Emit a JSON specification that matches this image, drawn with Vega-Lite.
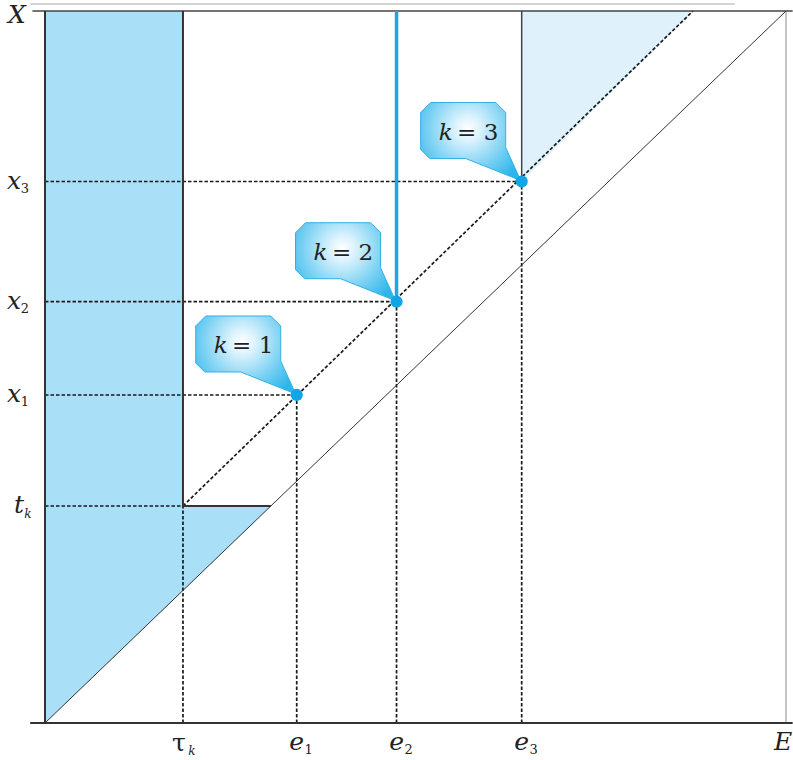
{
  "$schema": "https://vega.github.io/schema/vega-lite/v6.json",
  "width": 741,
  "height": 712,
  "autosize": {"type": "none"},
  "padding": {"left": 45, "top": 11, "right": 7, "bottom": 37},
  "background": "white",
  "config": {"view": {"stroke": null}, "text": {"font": "DejaVu Serif"}},
  "datasets": {
    "shade": [
      {"part": "a", "x": 0, "lo": 0, "hi": 100},
      {"part": "a", "x": 18.62, "lo": 18.62, "hi": 100},
      {"part": "b", "x": 18.62, "lo": 18.62, "hi": 30.48},
      {"part": "b", "x": 30.48, "lo": 30.48, "hi": 30.48}
    ],
    "shadeLight": [
      {"x": 64.33, "lo": 76.05, "hi": 100},
      {"x": 87.45, "lo": 100, "hi": 100}
    ],
    "dashed": [
      {"x": 0, "y": 76.05, "x2": 64.33, "y2": 76.05},
      {"x": 0, "y": 59.17, "x2": 47.44, "y2": 59.17},
      {"x": 0, "y": 46.07, "x2": 33.97, "y2": 46.07},
      {"x": 0, "y": 30.48, "x2": 18.62, "y2": 30.48},
      {"x": 18.62, "y": 0, "x2": 18.62, "y2": 30.48},
      {"x": 33.97, "y": 0, "x2": 33.97, "y2": 46.07},
      {"x": 47.44, "y": 0, "x2": 47.44, "y2": 59.17},
      {"x": 64.33, "y": 0, "x2": 64.33, "y2": 76.05},
      {"x": 18.62, "y": 30.48, "x2": 87.45, "y2": 100}
    ],
    "thick": [
      {"x": 0, "y": 0, "x2": 0, "y2": 100},
      {"x": -2, "y": 0, "x2": 100.9, "y2": 0},
      {"x": 18.62, "y": 30.48, "x2": 18.62, "y2": 100},
      {"x": 18.62, "y": 30.48, "x2": 30.48, "y2": 30.48}
    ],
    "medium": [
      {"x": 64.33, "y": 76.05, "x2": 64.33, "y2": 100},
      {"x": -1.7, "y": 100, "x2": 100.9, "y2": 100}
    ],
    "thin": [
      {"x": 0, "y": 0, "x2": 100, "y2": 100}
    ],
    "grayEdge": [
      {"x": 100, "y": 0, "x2": 100, "y2": 100}
    ],
    "topGray": [
      {"x": -2, "y": 101, "x2": 93.1, "y2": 101}
    ],
    "blue": [
      {"x": 47.44, "y": 59.17, "x2": 47.44, "y2": 100}
    ],
    "points": [
      {"k": "1", "x": 33.97, "y": 46.07, "label": "= 1"},
      {"k": "2", "x": 47.44, "y": 59.17, "label": "= 2"},
      {"k": "3", "x": 64.33, "y": 76.05, "label": "= 3"}
    ],
    "ylabX": [
      {"y": 76.05, "sub": "3"},
      {"y": 59.17, "sub": "2"},
      {"y": 46.07, "sub": "1"}
    ],
    "xlabE": [
      {"x": 33.97, "sub": "1"},
      {"x": 47.44, "sub": "2"},
      {"x": 64.33, "sub": "3"}
    ]
  },
  "layer": [
    {
      "data": {"name": "shade"},
      "mark": {"type": "area", "orient": "vertical", "color": "#aadff8", "opacity": 1},
      "encoding": {
        "x": {"field": "x", "type": "quantitative", "scale": {"domain": [0, 100], "nice": false, "zero": false}, "axis": null},
        "y": {"field": "hi", "type": "quantitative", "stack": null, "scale": {"domain": [0, 100], "nice": false, "zero": false}, "axis": null},
        "y2": {"field": "lo"},
        "detail": {"field": "part"}
      }
    },
    {
      "data": {"name": "shadeLight"},
      "mark": {"type": "area", "orient": "vertical", "color": "#dff2fc", "opacity": 1},
      "encoding": {
        "x": {"field": "x", "type": "quantitative"},
        "y": {"field": "hi", "type": "quantitative", "stack": null},
        "y2": {"field": "lo"}
      }
    },
    {
      "data": {"name": "dashed"},
      "mark": {"type": "rule", "color": "#1a1a1a", "strokeWidth": 1.7, "strokeDash": [3.5, 2]},
      "encoding": {
        "x": {"field": "x", "type": "quantitative"},
        "y": {"field": "y", "type": "quantitative"},
        "x2": {"field": "x2"},
        "y2": {"field": "y2"}
      }
    },
    {
      "data": {"name": "topGray"},
      "mark": {"type": "rule", "color": "#d4d4d4", "strokeWidth": 2},
      "encoding": {
        "x": {"field": "x", "type": "quantitative"},
        "y": {"field": "y", "type": "quantitative"},
        "x2": {"field": "x2"},
        "y2": {"field": "y2"}
      }
    },
    {
      "data": {"name": "grayEdge"},
      "mark": {"type": "rule", "color": "#888888", "strokeWidth": 1},
      "encoding": {
        "x": {"field": "x", "type": "quantitative"},
        "y": {"field": "y", "type": "quantitative"},
        "x2": {"field": "x2"},
        "y2": {"field": "y2"}
      }
    },
    {
      "data": {"name": "thin"},
      "mark": {"type": "rule", "color": "#333333", "strokeWidth": 1},
      "encoding": {
        "x": {"field": "x", "type": "quantitative"},
        "y": {"field": "y", "type": "quantitative"},
        "x2": {"field": "x2"},
        "y2": {"field": "y2"}
      }
    },
    {
      "data": {"name": "medium"},
      "mark": {"type": "rule", "color": "#444444", "strokeWidth": 1.5},
      "encoding": {
        "x": {"field": "x", "type": "quantitative"},
        "y": {"field": "y", "type": "quantitative"},
        "x2": {"field": "x2"},
        "y2": {"field": "y2"}
      }
    },
    {
      "data": {"name": "thick"},
      "mark": {"type": "rule", "color": "#333333", "strokeWidth": 2},
      "encoding": {
        "x": {"field": "x", "type": "quantitative"},
        "y": {"field": "y", "type": "quantitative"},
        "x2": {"field": "x2"},
        "y2": {"field": "y2"}
      }
    },
    {
      "data": {"name": "blue"},
      "mark": {"type": "rule", "color": "#1ba7e3", "strokeWidth": 3.5},
      "encoding": {
        "x": {"field": "x", "type": "quantitative"},
        "y": {"field": "y", "type": "quantitative"},
        "x2": {"field": "x2"},
        "y2": {"field": "y2"}
      }
    },
    {
      "data": {"name": "points"},
      "mark": {
        "type": "point",
        "shape": "M -1,-1 L -56,-23 L -92,-23 L -101,-32 L -101,-69 L -91,-79 L -26,-79 L -16,-69 L -16,-34 Z",
        "size": 4,
        "filled": true,
        "opacity": 1,
        "fill": {
          "gradient": "radial",
          "x1": 0.47, "y1": 0.37, "r1": 0,
          "x2": 0.47, "y2": 0.37, "r2": 0.62,
          "stops": [
            {"offset": 0, "color": "#ffffff"},
            {"offset": 0.2, "color": "#dcf3fd"},
            {"offset": 0.65, "color": "#78d0f3"},
            {"offset": 1, "color": "#2eb6ec"}
          ]
        },
        "stroke": "#34b0e4",
        "strokeWidth": 1
      },
      "encoding": {
        "x": {"field": "x", "type": "quantitative"},
        "y": {"field": "y", "type": "quantitative"}
      }
    },
    {
      "data": {"name": "points"},
      "mark": {"type": "point", "shape": "circle", "size": 150, "filled": true, "opacity": 1, "color": "#12a5e6"},
      "encoding": {
        "x": {"field": "x", "type": "quantitative"},
        "y": {"field": "y", "type": "quantitative"}
      }
    },
    {
      "data": {"name": "points"},
      "mark": {"type": "text", "text": "k", "fontStyle": "italic", "fontSize": 23, "align": "center", "baseline": "alphabetic", "dx": -76, "dy": -42, "color": "#222222"},
      "encoding": {
        "x": {"field": "x", "type": "quantitative"},
        "y": {"field": "y", "type": "quantitative"}
      }
    },
    {
      "data": {"name": "points"},
      "mark": {"type": "text", "fontSize": 23, "align": "center", "baseline": "alphabetic", "dx": -44, "dy": -42, "color": "#222222"},
      "encoding": {
        "x": {"field": "x", "type": "quantitative"},
        "y": {"field": "y", "type": "quantitative"},
        "text": {"field": "label"}
      }
    },
    {
      "data": {"name": "ylabX"},
      "mark": {"type": "text", "text": "x", "fontStyle": "italic", "fontSize": 25, "align": "center", "baseline": "alphabetic", "dx": -31, "dy": 7, "color": "#222222"},
      "encoding": {
        "x": {"datum": 0, "type": "quantitative"},
        "y": {"field": "y", "type": "quantitative"}
      }
    },
    {
      "data": {"name": "ylabX"},
      "mark": {"type": "text", "fontSize": 13, "align": "center", "baseline": "alphabetic", "dx": -20, "dy": 11, "color": "#222222"},
      "encoding": {
        "x": {"datum": 0, "type": "quantitative"},
        "y": {"field": "y", "type": "quantitative"},
        "text": {"field": "sub"}
      }
    },
    {
      "data": {"values": [{"y": 30.48}]},
      "mark": {"type": "text", "text": "t", "fontStyle": "italic", "fontSize": 25, "align": "center", "baseline": "alphabetic", "dx": -26, "dy": 7, "color": "#222222"},
      "encoding": {
        "x": {"datum": 0, "type": "quantitative"},
        "y": {"field": "y", "type": "quantitative"}
      }
    },
    {
      "data": {"values": [{"y": 30.48}]},
      "mark": {"type": "text", "text": "k", "fontStyle": "italic", "fontSize": 12, "align": "center", "baseline": "alphabetic", "dx": -17, "dy": 12, "color": "#222222"},
      "encoding": {
        "x": {"datum": 0, "type": "quantitative"},
        "y": {"field": "y", "type": "quantitative"}
      }
    },
    {
      "data": {"values": [{"y": 100}]},
      "mark": {"type": "text", "text": "X", "fontStyle": "italic", "fontSize": 25, "align": "center", "baseline": "alphabetic", "dx": -28, "dy": 12, "color": "#222222"},
      "encoding": {
        "x": {"datum": 0, "type": "quantitative"},
        "y": {"field": "y", "type": "quantitative"}
      }
    },
    {
      "data": {"values": [{"x": 18.62}]},
      "mark": {"type": "text", "text": "τ", "fontSize": 25, "align": "center", "baseline": "alphabetic", "dx": -4, "dy": 28, "color": "#222222"},
      "encoding": {
        "x": {"field": "x", "type": "quantitative"},
        "y": {"datum": 0, "type": "quantitative"}
      }
    },
    {
      "data": {"values": [{"x": 18.62}]},
      "mark": {"type": "text", "text": "k", "fontStyle": "italic", "fontSize": 12, "align": "center", "baseline": "alphabetic", "dx": 9, "dy": 32, "color": "#222222"},
      "encoding": {
        "x": {"field": "x", "type": "quantitative"},
        "y": {"datum": 0, "type": "quantitative"}
      }
    },
    {
      "data": {"name": "xlabE"},
      "mark": {"type": "text", "text": "e", "fontStyle": "italic", "fontSize": 25, "align": "center", "baseline": "alphabetic", "dx": 0, "dy": 27, "color": "#222222"},
      "encoding": {
        "x": {"field": "x", "type": "quantitative"},
        "y": {"datum": 0, "type": "quantitative"}
      }
    },
    {
      "data": {"name": "xlabE"},
      "mark": {"type": "text", "fontSize": 13, "align": "center", "baseline": "alphabetic", "dx": 12, "dy": 31, "color": "#222222"},
      "encoding": {
        "x": {"field": "x", "type": "quantitative"},
        "y": {"datum": 0, "type": "quantitative"},
        "text": {"field": "sub"}
      }
    },
    {
      "data": {"values": [{"x": 100}]},
      "mark": {"type": "text", "text": "E", "fontStyle": "italic", "fontSize": 25, "align": "center", "baseline": "alphabetic", "dx": -3, "dy": 27, "color": "#222222"},
      "encoding": {
        "x": {"field": "x", "type": "quantitative"},
        "y": {"datum": 0, "type": "quantitative"}
      }
    }
  ]
}
